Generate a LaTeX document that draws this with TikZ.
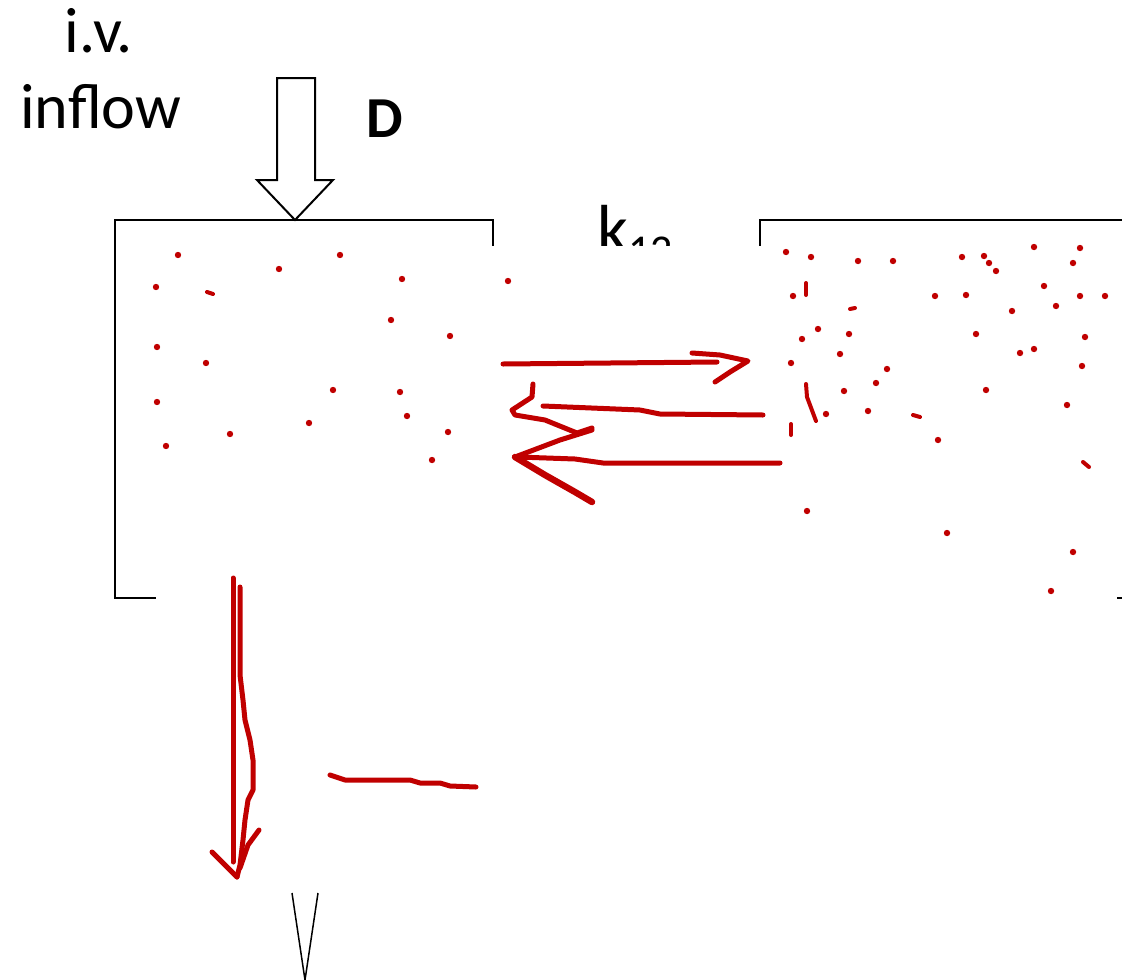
\documentclass[tikz,border=0pt]{standalone}
\usepackage{fontspec}
\setmainfont{Carlito}
\usepackage{tikz}
\usetikzlibrary{positioning}
\definecolor{inkred}{RGB}{192,0,0}
\tikzset{
  lbl/.style={inner sep=0pt, anchor=base west, font=\fontsize{64}{70}\selectfont},
  boxline/.style={draw=black, line width=2pt, line cap=rect},
  hollow/.style={draw=black, line width=2pt, fill=white, line join=miter},
  redpen/.style={draw=inkred, line width=5pt, line cap=round, line join=round},
  reddot/.style={fill=inkred}
}

\begin{document}
\begin{tikzpicture}[x=1pt, y=-1pt]
\useasboundingbox (0,0) rectangle (1122,980);
% labels
\node[lbl, anchor=base] (iv) at (99,52) {i.v.};
\node[lbl] (inflow) at (20,128) {inflow};
\node[lbl, font=\fontsize{58}{62}\selectfont\bfseries] (dose) at (366,137) {D};
\begin{scope}
  \clip (580,190) rectangle (700,245);
  \node[lbl, font=\fontsize{68}{72}\selectfont] (k12) at (597,252) {k\raisebox{-0.2em}{\fontsize{44}{48}\selectfont 12}};
\end{scope}
% compartments (open boxes)
\coordinate (c1top) at (295,220);
\draw[boxline] (155,598) -- (115,598) -- (115,220) -- (493,220) -- (493,245);
\draw[boxline] (760,245) -- (760,220) -- (1122,220);
\draw[boxline] (1118,598) -- (1122,598);
% infusion arrow
\draw[hollow] (277,78) -- (315,78) -- (315,180) -- (333,180) -- (c1top) -- (257,180) -- (277,180) -- cycle;
% molecules
\foreach \x/\y in {178/255, 340/255, 279/269, 402/279, 156/287, 391/320, 450/336, 157/347,
  206/363, 333/390, 400/392, 157/402, 407/416, 309/423, 448/432, 230/434, 166/446, 432/460, 508/281,
  786/252, 811/257, 858/261, 893/261, 962/257, 984/256, 989/263, 996/271, 1034/247, 1080/248,
  1073/263, 793/296, 935/296, 966/295, 1044/286, 1080/296, 1105/296, 1056/306, 1012/311,
  818/329, 802/339, 849/334, 976/334, 1085/337, 840/354, 1020/353, 1034/349, 791/363, 887/369,
  1082/366, 876/383, 844/391, 986/390, 826/414, 868/411, 1067/405, 938/440, 807/511, 947/533,
  1073/552, 1051/591}
  \fill[reddot] (\x,\y) circle (3.2);
\draw[redpen, line width=4pt] (207,292) -- (213,294);
\draw[redpen, line width=4pt] (806,283) -- (806,295);
\draw[redpen, line width=4pt] (850,309) -- (855,308);
\draw[redpen, line width=4pt] (806,384) -- (807,397) -- (816,421);
\draw[redpen, line width=4pt] (913,415) -- (920,417);
\draw[redpen, line width=4pt] (791,424) -- (791,435);
\draw[redpen, line width=4pt] (1083,462) -- (1089,467);
% transfer arrows
\draw[redpen] (503,364) -- (717,362);
\draw[redpen] (692,353) -- (720,355) -- (748,361) -- (730,372) -- (715,382);
\draw[redpen] (763,415) -- (660,414) -- (640,410) -- (543,406);
\draw[redpen] (533,384) -- (532,397) -- (512,410) -- (515,415) -- (545,420) -- (577,433) -- (592,428);
\draw[redpen] (780,463) -- (603,463) -- (575,459) -- (518,457);
\draw[redpen] (592,430) -- (560,440) -- (515,457);
\draw[redpen, line width=6.5pt] (515,457) -- (545,475) -- (575,492) -- (592,502);
% elimination
\draw[redpen] (233,578) -- (233,862);
\draw[redpen] (240,587) -- (240,675) -- (243,700) -- (245,720) -- (250,740) -- (253,760)
  -- (253,790) -- (248,800) -- (245,820) -- (243,840) -- (240,865) -- (237,877);
\draw[redpen] (212,852) -- (237,877);
\draw[redpen] (259,830) -- (248,845) -- (240,868);
\draw[redpen] (330,775) -- (345,780) -- (410,780) -- (420,783) -- (440,783) -- (450,786) -- (476,787);
\draw[black, line width=1.5pt] (292,893) -- (305,980) -- (318,893);
\end{tikzpicture}
\end{document}
